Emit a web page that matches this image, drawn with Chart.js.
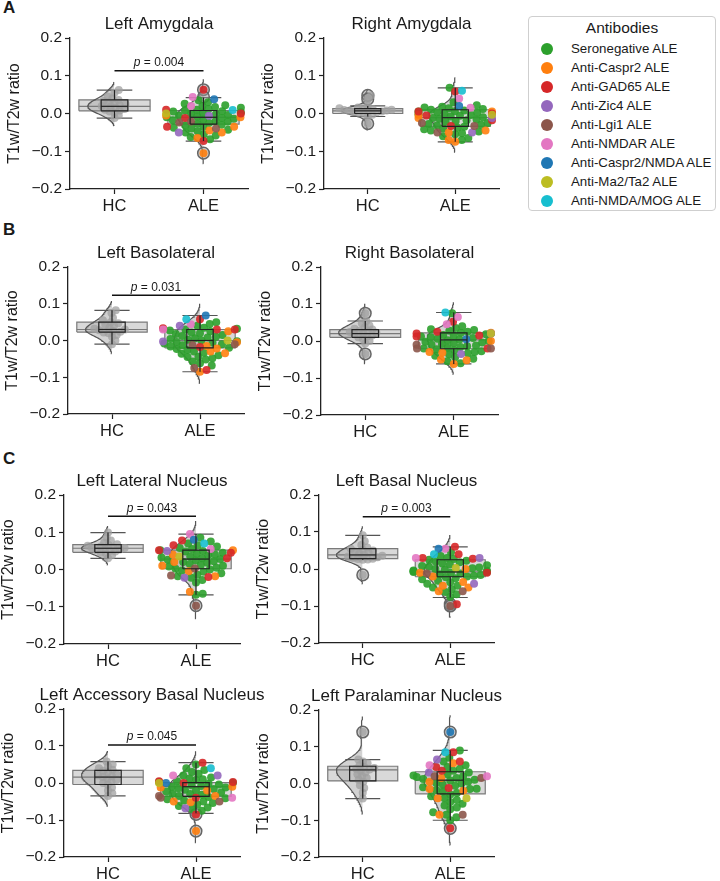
<!DOCTYPE html>
<html>
<head>
<meta charset="utf-8">
<script src="https://cdn.jsdelivr.net/npm/chart.js@4.4.1/dist/chart.umd.min.js"></script>
<style>
  body { margin: 0; width: 720px; height: 881px; background: #fff; position: relative; overflow: hidden;
         font-family: 'Liberation Sans', Arial, sans-serif; color: #1a1a1a; }
  canvas { position: absolute; }
  .letter { position: absolute; font-weight: bold; font-size: 17px; }
  #legend { position: absolute; left: 528px; top: 16px; width: 188px; height: 195px; border: 1px solid #cfcfcf;
            border-radius: 4px; box-sizing: border-box; background: #fff; }
  #legend .lt { position: absolute; left: 0; top: 1px; width: 100%; text-align: center; font-size: 15.5px; line-height: 20px; }
  #legend .row { position: absolute; left: 0; height: 18px; line-height: 18px; font-size: 13.3px; white-space: nowrap; }
  #legend .dot { position: absolute; left: 12px; top: 3px; width: 12px; height: 12px; border-radius: 50%; }
  #legend .txt { position: absolute; left: 42px; top: 0; }
</style>
</head>
<body>
<div class="letter" style="left:3px;top:-2px">A</div>
<div class="letter" style="left:3px;top:220px">B</div>
<div class="letter" style="left:3px;top:449px">C</div>
<div id="legend"><div class="lt">Antibodies</div></div>

<script>
// categorie e gruppi
const categories = ['HC', 'ALE'];
const yTicks = [-0.2, -0.1, 0.0, 0.1, 0.2];
const groupNames = ['Seronegative ALE', 'Anti-Caspr2 ALE', 'Anti-GAD65 ALE', 'Anti-Zic4 ALE', 'Anti-Lgi1 ALE',
                    'Anti-NMDAR ALE', 'Anti-Caspr2/NMDA ALE', 'Anti-Ma2/Ta2 ALE', 'Anti-NMDA/MOG ALE'];
const groupColors = ['#2ca02c', '#ff7f0e', '#d62728', '#9467bd', '#8c564b', '#e377c2', '#1f77b4', '#bcbd22', '#17becf'];

// gruppo anticorpale di ogni paziente ALE (stesso ordine in tutti i pannelli)
const aleGroup = [0,0,0,0,0,0,0,0,0,0, 0,0,0,0,0,0,0,0,0,0, 0,0,0,0,0,0,0,0,0,0, 0,0,0,0,0,0,0,0,0,0,
                  1,1,1,1,1,1,1, 2,2,2,2,2,2, 3,3, 4,4,4, 5,5, 6, 7, 8];

const panelTitles = ['Left Amygdala', 'Right Amygdala', 'Left Basolateral', 'Right Basolateral',
                     'Left Lateral Nucleus', 'Left Basal Nucleus', 'Left Accessory Basal Nucleus', 'Left Paralaminar Nucleus'];
const pValues = ['0.004', null, '0.031', null, '0.043', '0.003', '0.045', null];
const sigHeights = [0.113, null, 0.123, null, 0.143, 0.141, 0.103, null];

// box: [whisker low, q1, mediana, q3, whisker high] per HC e ALE
const hcLeftAmygdala = [0.062, 0.055, 0.045, 0.04, 0.036, 0.033, 0.03, 0.028, 0.025, 0.022,
                        0.02, 0.018, 0.015, 0.012, 0.01, 0.008, 0.005, 0.002, -0.005, -0.012];
const aleLeftAmygdala = [0.035, 0.03, 0.026, 0.022, 0.02, 0.017, 0.015, 0.012, 0.01, 0.008,
                         0.006, 0.005, 0.003, 0.002, 0.0, -0.002, -0.004, -0.005, -0.008, -0.01,
                         -0.012, -0.014, -0.016, -0.018, -0.02, -0.022, -0.025, -0.027, -0.03, -0.032,
                         -0.035, -0.038, -0.04, -0.043, -0.047, -0.05, -0.055, -0.058, -0.062, -0.068,
                         -0.005, -0.01, -0.035, -0.045, -0.05, -0.065, -0.105,
                         0.063, 0.01, 0.0, -0.012, -0.035, -0.073,
                         -0.006, -0.05, -0.021, -0.024, -0.04, 0.044, 0.02, 0.038, 0.0, 0.009];
const boxLeftAmygdala = [[-0.012, 0.007, 0.019, 0.036, 0.062], [-0.073, -0.028, -0.01, 0.008, 0.042]];

const hcRightAmygdala = [0.048, 0.038, 0.02, 0.016, 0.014, 0.013, 0.012, 0.01, 0.009, 0.008,
                         0.007, 0.006, 0.005, 0.004, 0.003, 0.002, 0.0, -0.003, -0.008, -0.027];
const aleRightAmygdala = [0.068, 0.03, 0.022, 0.018, 0.016, 0.014, 0.012, 0.01, 0.008, 0.006,
                          0.005, 0.003, 0.002, 0.0, -0.002, -0.004, -0.006, -0.008, -0.01, -0.012,
                          -0.014, -0.016, -0.018, -0.02, -0.022, -0.025, -0.028, -0.03, -0.032, -0.035,
                          -0.038, -0.04, -0.042, -0.045, -0.048, -0.052, -0.055, -0.06, -0.065, -0.07,
                          0.005, -0.003, -0.012, -0.045, -0.05, -0.07, -0.075,
                          0.058, 0.005, 0.0, -0.005, -0.018, -0.033,
                          -0.012, -0.05, -0.025, -0.033, -0.05, 0.04, 0.015, 0.02, -0.003, 0.06];
const boxRightAmygdala = [[-0.008, 0.0, 0.007, 0.013, 0.02], [-0.075, -0.034, -0.011, 0.01, 0.068]];

const hcLeftBasolateral = [0.082, 0.075, 0.062, 0.055, 0.05, 0.047, 0.043, 0.04, 0.035, 0.032,
                           0.03, 0.028, 0.026, 0.024, 0.022, 0.02, 0.015, 0.01, 0.0, -0.01];
const aleLeftBasolateral = [0.05, 0.045, 0.04, 0.035, 0.032, 0.03, 0.027, 0.025, 0.022, 0.02,
                            0.018, 0.015, 0.012, 0.01, 0.008, 0.006, 0.004, 0.002, 0.0, -0.002,
                            -0.004, -0.006, -0.008, -0.01, -0.013, -0.016, -0.02, -0.023, -0.026, -0.03,
                            -0.033, -0.036, -0.04, -0.044, -0.045, -0.048, -0.052, -0.057, -0.062, -0.068,
                            0.025, -0.005, -0.015, -0.022, -0.03, -0.035, -0.085,
                            0.058, 0.033, 0.03, 0.03, -0.018, -0.08,
                            0.04, -0.003, -0.01, -0.012, -0.075, 0.044, 0.03, 0.068, 0.0, 0.058];
const boxLeftBasolateral = [[-0.01, 0.023, 0.03, 0.05, 0.082], [-0.085, -0.02, 0.0, 0.03, 0.068]];

const hcRightBasolateral = [0.075, 0.054, 0.048, 0.042, 0.037, 0.033, 0.031, 0.028, 0.026, 0.024,
                            0.022, 0.02, 0.018, 0.015, 0.012, 0.01, 0.005, 0.0, -0.007, -0.035];
const aleRightBasolateral = [0.075, 0.04, 0.035, 0.032, 0.03, 0.028, 0.025, 0.022, 0.02, 0.018,
                             0.016, 0.014, 0.012, 0.01, 0.008, 0.006, 0.004, 0.002, 0.0, -0.002,
                             -0.004, -0.006, -0.008, -0.01, -0.012, -0.014, -0.016, -0.018, -0.02, -0.022,
                             -0.025, -0.028, -0.03, -0.033, -0.036, -0.04, -0.044, -0.048, -0.055, -0.06,
                             0.022, 0.0, -0.03, -0.032, -0.05, -0.052, -0.062,
                             0.052, 0.025, 0.02, 0.015, 0.012, -0.02,
                             0.02, -0.035, -0.01, -0.02, -0.02, 0.065, 0.045, 0.005, 0.02, 0.077];
const boxRightBasolateral = [[-0.007, 0.01, 0.02, 0.031, 0.054], [-0.062, -0.021, 0.003, 0.022, 0.077]];

const hcLeftLateral = [0.099, 0.085, 0.078, 0.072, 0.068, 0.066, 0.064, 0.062, 0.06, 0.058,
                       0.057, 0.056, 0.054, 0.052, 0.05, 0.048, 0.045, 0.042, 0.038, 0.03];
const aleLeftLateral = [0.085, 0.075, 0.07, 0.065, 0.062, 0.058, 0.055, 0.052, 0.05, 0.048,
                        0.045, 0.042, 0.04, 0.038, 0.035, 0.032, 0.03, 0.028, 0.026, 0.024,
                        0.022, 0.02, 0.018, 0.015, 0.012, 0.01, 0.008, 0.005, 0.002, 0.0,
                        -0.003, -0.006, -0.01, -0.014, -0.018, -0.022, -0.028, -0.035, -0.065, -0.068,
                        0.052, 0.04, 0.02, 0.01, -0.005, -0.018, -0.06,
                        0.078, 0.065, 0.052, 0.045, 0.03, -0.02,
                        0.05, -0.022, 0.003, -0.016, -0.097, 0.095, 0.055, 0.08, 0.035, 0.07];
const boxLeftLateral = [[0.03, 0.046, 0.057, 0.067, 0.099], [-0.068, 0.002, 0.028, 0.052, 0.095]];

const hcLeftBasal = [0.091, 0.075, 0.065, 0.058, 0.055, 0.052, 0.05, 0.047, 0.044, 0.041,
                     0.038, 0.036, 0.034, 0.032, 0.03, 0.028, 0.027, 0.026, 0.025, -0.016];
const aleLeftBasal = [0.045, 0.035, 0.03, 0.027, 0.025, 0.022, 0.02, 0.018, 0.015, 0.012,
                      0.01, 0.008, 0.006, 0.004, 0.002, 0.0, -0.002, -0.004, -0.005, -0.006,
                      -0.008, -0.008, -0.01, -0.012, -0.014, -0.016, -0.018, -0.02, -0.022, -0.025,
                      -0.028, -0.032, -0.036, -0.04, -0.045, -0.05, -0.055, -0.062, -0.068, -0.075,
                      0.0, -0.01, -0.02, -0.035, -0.045, -0.05, -0.06,
                      0.06, 0.04, 0.03, 0.028, -0.01, -0.095,
                      0.03, -0.04, -0.012, -0.06, -0.1, 0.055, 0.03, 0.055, 0.003, 0.04];
const boxLeftBasal = [[0.025, 0.028, 0.038, 0.055, 0.091], [-0.077, -0.021, -0.008, 0.025, 0.06]];

const hcLeftAccessory = [0.058, 0.05, 0.045, 0.04, 0.036, 0.033, 0.03, 0.025, 0.02, 0.018,
                         0.016, 0.012, 0.008, 0.004, 0.0, -0.005, -0.012, -0.02, -0.028, -0.035];
const aleLeftAccessory = [0.05, 0.04, 0.035, 0.03, 0.025, 0.02, 0.015, 0.012, 0.01, 0.008,
                          0.005, 0.003, 0.001, -0.002, -0.004, -0.006, -0.008, -0.01, -0.012, -0.014,
                          -0.016, -0.018, -0.02, -0.023, -0.026, -0.029, -0.03, -0.032, -0.035, -0.038,
                          -0.041, -0.044, -0.047, -0.05, -0.054, -0.058, -0.062, -0.066, -0.07, -0.075,
                          -0.01, -0.012, -0.02, -0.035, -0.05, -0.052, -0.13,
                          0.055, 0.005, 0.003, 0.0, -0.04, -0.085,
                          0.02, -0.068, -0.035, -0.04, -0.05, 0.02, -0.04, 0.0, 0.0, 0.04];
const boxLeftAccessory = [[-0.035, -0.004, 0.016, 0.034, 0.058], [-0.082, -0.036, -0.01, 0.001, 0.055]];

const hcLeftParalaminar = [0.14, 0.065, 0.06, 0.055, 0.05, 0.045, 0.042, 0.04, 0.038, 0.035,
                           0.03, 0.025, 0.02, 0.015, 0.01, 0.005, -0.005, -0.012, -0.025, -0.041];
const aleLeftParalaminar = [0.09, 0.07, 0.06, 0.05, 0.045, 0.04, 0.035, 0.03, 0.025, 0.022,
                            0.02, 0.018, 0.015, 0.012, 0.01, 0.008, 0.005, 0.002, 0.0, -0.003,
                            -0.006, -0.01, -0.014, -0.015, -0.018, -0.022, -0.026, -0.03, -0.035, -0.04,
                            -0.045, -0.05, -0.055, -0.06, -0.065, -0.07, -0.078, -0.085, -0.092, -0.1,
                            0.055, 0.015, 0.005, -0.015, -0.02, -0.04, -0.085,
                            0.085, 0.06, 0.045, 0.035, -0.012, -0.122,
                            0.065, 0.03, 0.02, 0.015, -0.085, 0.05, 0.02, 0.14, -0.04, 0.085];
const boxLeftParalaminar = [[-0.041, 0.007, 0.037, 0.047, 0.065], [-0.1, -0.028, 0.009, 0.032, 0.09]];

const panelData = [
  [hcLeftAmygdala, aleLeftAmygdala, boxLeftAmygdala],
  [hcRightAmygdala, aleRightAmygdala, boxRightAmygdala],
  [hcLeftBasolateral, aleLeftBasolateral, boxLeftBasolateral],
  [hcRightBasolateral, aleRightBasolateral, boxRightBasolateral],
  [hcLeftLateral, aleLeftLateral, boxLeftLateral],
  [hcLeftBasal, aleLeftBasal, boxLeftBasal],
  [hcLeftAccessory, aleLeftAccessory, boxLeftAccessory],
  [hcLeftParalaminar, aleLeftParalaminar, boxLeftParalaminar]
];

// posizione area grafico: [sinistra, alto, larghezza, altezza]
const panelPos = [[70, 38, 178, 151], [324, 38, 175, 151], [68, 267, 176, 147], [321, 267, 177, 148],
                  [64, 495, 176, 149], [319, 495, 175, 148], [64, 709, 176, 148], [319, 710, 175, 147]];

const FAM = "'Liberation Sans', Arial, sans-serif";
Chart.defaults.font.family = FAM;
Chart.defaults.color = '#1a1a1a';

// legenda
const leg = document.getElementById('legend');
groupNames.forEach((name, i) => {
  const row = document.createElement('div');
  row.className = 'row';
  row.style.top = (23 + 19 * i) + 'px';
  row.innerHTML = '<span class="dot" style="background:' + groupColors[i] + '"></span><span class="txt">' + name + '</span>';
  leg.appendChild(row);
});

function fmtTick(v) {
  return (v < -1e-9 ? '\u2212' : '') + Math.abs(v).toFixed(1);
}

// densita' kernel gaussiana (Scott), taglio a 2 bandwidth
function kde(vals) {
  const n = vals.length;
  const mean = vals.reduce((a, b) => a + b, 0) / n;
  const sd = Math.sqrt(vals.reduce((a, b) => a + (b - mean) * (b - mean), 0) / (n - 1));
  const bw = sd * Math.pow(n, -0.2);
  const lo = Math.min(...vals) - 2 * bw, hi = Math.max(...vals) + 2 * bw;
  const out = [];
  for (let k = 0; k <= 90; k++) {
    const y = lo + (hi - lo) * k / 90;
    let d = 0;
    vals.forEach(v => { d += Math.exp(-0.5 * ((y - v) / bw) ** 2); });
    out.push([y, d]);
  }
  const m = Math.max(...out.map(p => p[1]));
  return out.map(p => ({ y: p[0], w: p[1] / m }));
}

// beeswarm in pixel
function swarm(vals, yPx, r, limit) {
  const idx = vals.map((v, i) => i).sort((a, b) => vals[a] - vals[b]);
  const placed = [];
  const offs = new Array(vals.length);
  idx.forEach(i => {
    const y = vals[i] * yPx;
    const near = placed.filter(p => Math.abs(p.y - y) < 2 * r);
    const cands = [0];
    near.forEach(p => {
      const dx = Math.sqrt(4 * r * r - (p.y - y) ** 2);
      cands.push(p.x + dx, p.x - dx);
    });
    cands.sort((a, b) => Math.abs(a) - Math.abs(b));
    let x = cands.find(c => near.every(p => (p.x - c) ** 2 + (p.y - y) ** 2 >= 4 * r * r - 1e-6));
    x = Math.max(-limit, Math.min(limit, x));
    placed.push({ x: x, y: y });
    offs[i] = x;
  });
  return offs;
}

function lineDs(data, color, width, order, extra) {
  return Object.assign({ type: 'line', data: data, borderColor: color, borderWidth: width,
    pointRadius: 0, fill: false, tension: 0, order: order }, extra || {});
}

const pText = {
  id: 'pText',
  afterDatasetsDraw(chart, args, opts) {
    if (!opts.text) return;
    const { ctx, scales: { x, y } } = chart;
    const px = x.getPixelForValue(0.5), py = y.getPixelForValue(opts.height) - 4.5;
    ctx.save();
    ctx.fillStyle = '#1a1a1a';
    ctx.textBaseline = 'alphabetic';
    ctx.font = 'italic 12px ' + FAM;
    const w1 = ctx.measureText('p').width;
    ctx.font = '12px ' + FAM;
    const rest = ' = ' + opts.text;
    const w2 = ctx.measureText(rest).width;
    const sx = px - (w1 + w2) / 2;
    ctx.font = 'italic 12px ' + FAM;
    ctx.fillText('p', sx, py);
    ctx.font = '12px ' + FAM;
    ctx.fillText(rest, sx + w1, py);
    ctx.restore();
  }
};

panelData.forEach((pd, pi) => {
  const [L, T, W, H] = panelPos[pi];
  const cv = document.createElement('canvas');
  cv.width = 66 + W + 66;
  cv.height = 26 + H + 30;
  cv.style.left = (L - 66) + 'px';
  cv.style.top = (T - 26) + 'px';
  document.body.appendChild(cv);

  const xPx = W / 2, yPx = H / 0.4;
  const datasets = [];
  [pd[0], pd[1]].forEach((vals, c) => {
    const [wlo, q1, med, q3, whi] = pd[2][c];
    // mezzo violino a sinistra
    const dens = kde(vals);
    const edge = dens.map(p => ({ x: c - 0.3 * p.w, y: p.y }));
    const shape = edge.concat([{ x: c, y: dens[dens.length - 1].y }, { x: c, y: dens[0].y }, edge[0]]);
    datasets.push(lineDs(shape, 'rgba(0,0,0,0)', 0, 20, { fill: 'shape', backgroundColor: 'rgba(165,165,165,0.5)' }));
    // box largo
    const bw = 0.4;
    datasets.push(lineDs([{ x: c - bw, y: q1 }, { x: c + bw, y: q1 }, { x: c + bw, y: q3 }, { x: c - bw, y: q3 }, { x: c - bw, y: q1 }],
      '#7a7a7a', 1.2, 19, { fill: 'shape', backgroundColor: 'rgba(180,180,180,0.5)' }));
    datasets.push(lineDs([{ x: c - bw, y: med }, { x: c + bw, y: med }], '#7a7a7a', 1.2, 18));
    datasets.push(lineDs(edge, '#555', 1.2, 17));
    // cappucci dei baffi
    datasets.push(lineDs([{ x: c - 0.2, y: whi }, { x: c + 0.2, y: whi }], '#555', 1.2, 16));
    datasets.push(lineDs([{ x: c - 0.2, y: wlo }, { x: c + 0.2, y: wlo }], '#555', 1.2, 16));
    // outlier
    const fl = vals.filter(v => v > whi + 1e-9 || v < wlo - 1e-9).map(v => ({ x: c, y: v }));
    datasets.push({ type: 'line', data: fl, showLine: false, pointRadius: 5.8, pointBorderWidth: 1.5,
      pointBorderColor: '#666', pointBackgroundColor: 'rgba(150,150,150,0.5)', order: 15 });
    // punti swarm
    const offs = swarm(vals, yPx, c === 0 ? 2.5 : 3.4, 0.42 * xPx);
    const pts = vals.map((v, i) => ({ x: c + offs[i] / xPx, y: v }));
    const cols = c === 0 ? vals.map(() => 'rgba(160,160,160,0.75)') : aleGroup.map(g => groupColors[g] + 'e6');
    datasets.push({ type: 'line', data: pts, showLine: false, pointRadius: 4, pointBorderWidth: 0,
      pointBorderColor: 'rgba(0,0,0,0)', pointBackgroundColor: cols, order: 10 });
    // box stretto, mediana e baffi
    const nw = 0.15;
    datasets.push(lineDs([{ x: c - nw, y: q1 }, { x: c + nw, y: q1 }, { x: c + nw, y: q3 }, { x: c - nw, y: q3 }, { x: c - nw, y: q1 }],
      '#222', 1.2, 5));
    datasets.push(lineDs([{ x: c - nw, y: med }, { x: c + nw, y: med }], '#222', 1.2, 5));
    datasets.push(lineDs([{ x: c, y: q3 }, { x: c, y: whi }], '#222', 1.2, 5));
    datasets.push(lineDs([{ x: c, y: q1 }, { x: c, y: wlo }], '#222', 1.2, 5));
  });
  if (sigHeights[pi] !== null) {
    datasets.push(lineDs([{ x: 0, y: sigHeights[pi] }, { x: 1, y: sigHeights[pi] }], '#111', 1.5, 1));
  }

  const axisGrid = { drawOnChartArea: false, drawTicks: true, tickLength: 5, tickColor: '#222', tickWidth: 1.2 };
  const axisBorder = { color: '#222', width: 1.3 };

  new Chart(cv, {
    type: 'line',
    data: { datasets: datasets },
    options: {
      responsive: false,
      animation: false,
      events: [],
      plugins: {
        legend: { display: false },
        tooltip: { enabled: false },
        title: { display: true, text: panelTitles[pi], font: { size: 17, weight: 'normal' }, color: '#1a1a1a',
                 padding: { top: 2.5, bottom: 3.1 } },
        pText: { text: pValues[pi], height: sigHeights[pi] }
      },
      scales: {
        x: {
          type: 'linear', min: -0.5, max: 1.5,
          afterBuildTicks: s => { s.ticks = categories.map((n, i) => ({ value: i })); },
          ticks: { callback: v => categories[v], font: { size: 16.5 }, padding: 3, autoSkip: false, maxRotation: 0, color: '#1a1a1a' },
          grid: axisGrid, border: axisBorder,
          afterFit: s => { s.height = 30; }
        },
        y: {
          type: 'linear', min: -0.2, max: 0.2,
          afterBuildTicks: s => { s.ticks = yTicks.map(v => ({ value: v })); },
          ticks: { callback: v => fmtTick(v), font: { size: 15.5 }, padding: 3, color: '#1a1a1a' },
          grid: axisGrid, border: axisBorder,
          title: { display: true, text: 'T1w/T2w ratio', font: { size: 16 }, padding: { top: 1, bottom: 0 }, color: '#1a1a1a' },
          afterFit: s => { s.width = 66; }
        },
        // asse vuoto a destra: tiene il titolo centrato sull'area del grafico
        yRight: {
          type: 'linear', position: 'right', min: -0.2, max: 0.2,
          ticks: { display: false }, grid: { display: false }, border: { display: false },
          afterFit: s => { s.width = 66; }
        }
      }
    },
    plugins: [pText]
  });
});
</script>
</body>
</html>
